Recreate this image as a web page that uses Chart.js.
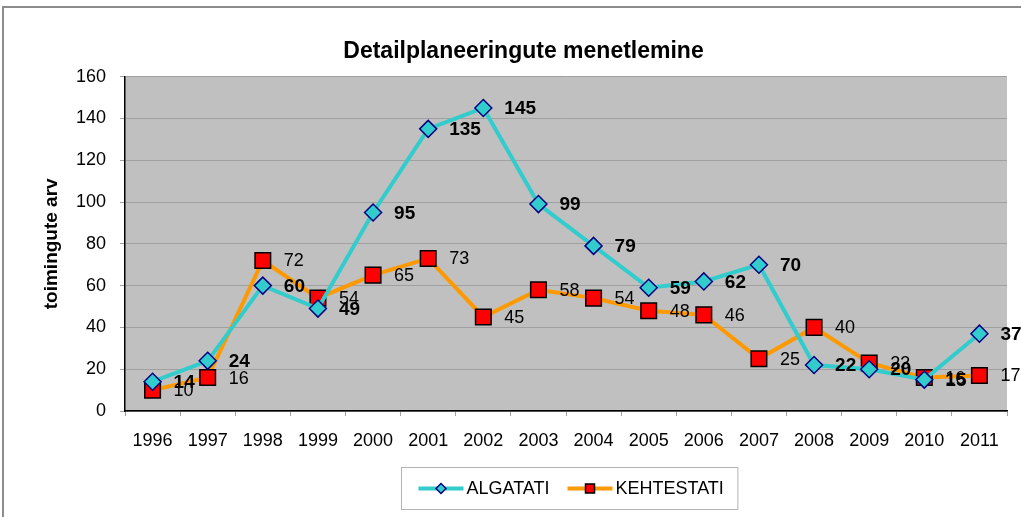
<!DOCTYPE html>
<html>
<head>
<meta charset="utf-8">
<script src="https://cdn.jsdelivr.net/npm/chart.js@4.4.0/dist/chart.umd.min.js"></script>
<style>
  html, body { margin: 0; padding: 0; background: #fff; }
  #wrap { width: 1021px; height: 517px; position: relative; }
</style>
</head>
<body>
<div id="wrap"><canvas id="chart"></canvas></div>
<script>
var years = ["1996", "1997", "1998", "1999", "2000", "2001", "2002", "2003", "2004", "2005", "2006", "2007", "2008", "2009", "2010", "2011"];
var algatati = [14, 24, 60, 49, 95, 135, 145, 99, 79, 59, 62, 70, 22, 20, 15, 37];
var kehtestati = [10, 16, 72, 54, 65, 73, 45, 58, 54, 48, 46, 25, 40, 23, 16, 17];
var yTicks = [0, 20, 40, 60, 80, 100, 120, 140, 160];

var FONT = "'Liberation Sans', Arial, sans-serif";

// background, frame, labels and legend
var decor = {
    id: 'decor',
    beforeDraw: function(chart) {
        var c = chart.ctx, a = chart.chartArea;
        c.save();
        c.fillStyle = '#ffffff';
        c.fillRect(0, 0, chart.width, chart.height);
        c.strokeStyle = '#8c8c8c';
        c.lineWidth = 2;
        c.beginPath();
        c.moveTo(3, chart.height);
        c.lineTo(3, 7);
        c.lineTo(chart.width, 7);
        c.stroke();
        c.fillStyle = '#c0c0c0';
        c.fillRect(a.left, a.top, a.right - a.left, a.bottom - a.top);
        c.restore();
    },
    afterDatasetsDraw: function(chart) {
        var c = chart.ctx;
        c.save();
        c.textBaseline = 'middle';
        c.textAlign = 'left';
        c.fillStyle = '#000000';
        chart.data.datasets.forEach(function(ds, i) {
            c.font = (i === 0 ? 'bold 19px ' : '18px ') + FONT;
            chart.getDatasetMeta(i).data.forEach(function(pt, j) {
                c.fillText(String(ds.data[j]), pt.x + 21, pt.y + 1);
            });
        });
        c.restore();
    },
    afterDraw: function(chart) {
        var c = chart.ctx, a = chart.chartArea;
        c.save();
        c.font = '18px ' + FONT;
        var items = chart.data.datasets;
        var iconW = 45, gap = 3, sep = 18;
        var total = 0;
        items.forEach(function(ds, i) {
            total += iconW + gap + c.measureText(ds.label).width + (i ? sep : 0);
        });
        var boxW = total + 31, boxH = 42;
        var bx = Math.round((a.left + a.right) / 2 - boxW / 2 + 3) + 0.5;
        var by = 467.5;
        c.strokeStyle = '#b4b4b4';
        c.lineWidth = 1;
        c.strokeRect(bx, by, boxW, boxH);
        var x = bx + 17, cy = by + boxH / 2;
        items.forEach(function(ds, i) {
            if (i) x += sep;
            c.strokeStyle = ds.borderColor;
            c.lineWidth = 4;
            c.beginPath();
            c.moveTo(x, cy);
            c.lineTo(x + iconW, cy);
            c.stroke();
            c.fillStyle = ds.pointBackgroundColor;
            c.strokeStyle = ds.pointBorderColor;
            c.lineWidth = 1.5;
            var mx = x + iconW / 2;
            c.beginPath();
            if (ds.pointStyle === 'rectRot') {
                c.moveTo(mx, cy - 5); c.lineTo(mx + 5, cy); c.lineTo(mx, cy + 5); c.lineTo(mx - 5, cy); c.closePath();
            } else {
                c.rect(mx - 4.5, cy - 4.5, 9, 9);
            }
            c.fill();
            c.stroke();
            x += iconW + gap;
            c.fillStyle = '#000000';
            c.textBaseline = 'middle';
            c.fillText(ds.label, x, cy + 1);
            x += c.measureText(ds.label).width;
        });
        c.restore();
    }
};

var ctx = document.getElementById('chart').getContext('2d');
var myChart = new Chart(ctx, {
    type: 'line',
    data: {
        labels: years,
        datasets: [{
            label: 'ALGATATI',
            data: algatati,
            borderColor: '#33CCCC',
            backgroundColor: '#33CCCC',
            borderWidth: 4,
            pointStyle: 'rectRot',
            pointRadius: 8.5,
            pointBackgroundColor: '#33CCCC',
            pointBorderColor: '#000080',
            pointBorderWidth: 1.5,
            tension: 0
        }, {
            label: 'KEHTESTATI',
            data: kehtestati,
            borderColor: '#FF9900',
            backgroundColor: '#FF9900',
            borderWidth: 4,
            pointStyle: 'rect',
            pointRadius: 11,
            pointBackgroundColor: '#FF0000',
            pointBorderColor: '#000000',
            pointBorderWidth: 1.5,
            tension: 0
        }]
    },
    options: {
        responsive: true,
        maintainAspectRatio: false,
        animation: false,
        layout: { padding: { top: 28, right: 14, bottom: 70, left: 40 } },
        plugins: {
            legend: { display: false },
            tooltip: { enabled: false },
            title: {
                display: true,
                text: 'Detailplaneeringute menetlemine',
                color: '#000000',
                font: { family: FONT, size: 23, weight: 'bold' },
                padding: { top: 10, bottom: 11 }
            }
        },
        scales: {
            x: {
                offset: true,
                afterFit: function(s) { s.height = 36; },
                grid: { offset: true, drawOnChartArea: false, drawTicks: true, tickLength: 5, color: '#a0a0a0' },
                border: { color: '#000000', width: 1.5 },
                ticks: { color: '#000000', font: { family: FONT, size: 18 }, padding: 14, maxRotation: 0 }
            },
            y: {
                min: 0,
                max: 160,
                afterFit: function(s) { s.width = 85; },
                afterBuildTicks: function(s) { s.ticks = yTicks.map(function(v) { return { value: v }; }); },
                grid: { color: '#a0a0a0', lineWidth: 1, tickLength: 5, drawTicks: true },
                border: { color: '#000000', width: 1.5 },
                ticks: { color: '#000000', font: { family: FONT, size: 18 }, padding: 14 },
                title: {
                    display: true,
                    text: 'toimingute arv',
                    color: '#000000',
                    font: { family: FONT, size: 19, weight: 'bold' },
                    padding: { top: 0, bottom: 8 }
                }
            }
        }
    },
    plugins: [decor]
});
</script>
</body>
</html>
